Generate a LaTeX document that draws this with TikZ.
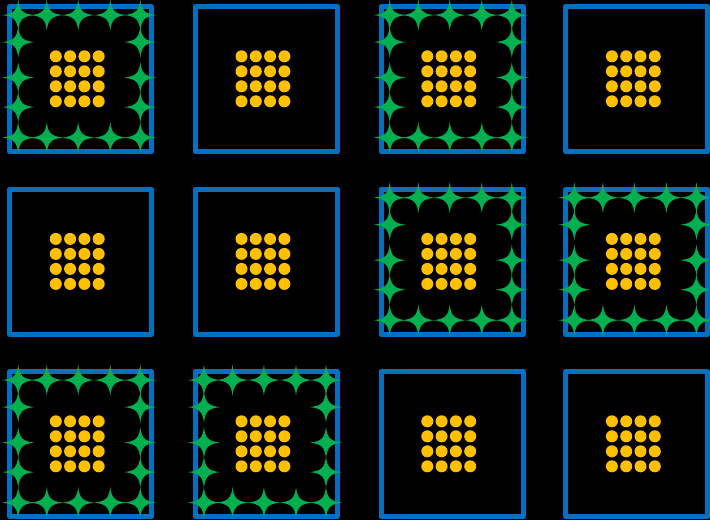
\documentclass[tikz,border=0pt]{standalone}
\usetikzlibrary{calc}

\definecolor{cellblue}{RGB}{0,112,192}
\definecolor{grainyellow}{RGB}{255,192,0}
\definecolor{sparkgreen}{RGB}{0,176,80}

\tikzset{every picture/.style={line width=0.75pt}}
\tikzset{
  cell/.style={draw=cellblue, line width=3.75pt, line join=round, minimum width=106.5pt, minimum height=108.75pt, inner sep=0pt, outer sep=0pt},
  grain/.style={fill=grainyellow},
  sparkle/.pic={
    \fill[sparkgreen] (16,0) .. controls (4.5,1.3) and (1.3,4.5) .. (0,15.5) .. controls (-1.3,4.5) and (-4.5,1.3) .. (-16,0) .. controls (-4.5,-1.3) and (-1.3,-4.5) .. (0,-15.5) .. controls (1.3,-4.5) and (4.5,-1.3) .. cycle;
  }
}

\begin{document}
\begin{tikzpicture}[x=0.75pt,y=0.75pt,yscale=-1,xscale=1]

\fill[black] (0,0) rectangle (710,520);
\useasboundingbox (0,0) rectangle (710,520);

% cells
\foreach \r/\ypos in {1/79.1,2/261.7,3/444.1}
  \foreach \c/\xpos in {1/80.5,2/266.2,3/452,4/636.6}
    \node[cell] (cell-\r-\c) at (\xpos,\ypos) {};

% sparkles round the border
\foreach \r/\c in {1/1,1/3,2/3,2/4,3/1,3/2} {
  \foreach \dx in {8.7,37.3,68.7,100.8,130.8} {
    \pic at ($(cell-\r-\c.north west)+(\dx,8.5)$) {sparkle};
    \pic at ($(cell-\r-\c.north west)+(\dx,131)$) {sparkle};
  }
  \foreach \dy in {35.5,71,100.5} {
    \pic at ($(cell-\r-\c.north west)+(8.7,\dy)$) {sparkle};
    \pic at ($(cell-\r-\c.north west)+(130.8,\dy)$) {sparkle};
  }
}

% grains
\foreach \r in {1,2,3}
  \foreach \c in {1,...,4}
    \foreach \i in {0,...,3}
      \foreach \j in {0,...,3}
        \fill[grain] ($(cell-\r-\c.north west)+(46.3+14.3*\i,49.7+15*\j)$) circle (6);

\end{tikzpicture}
\end{document}
